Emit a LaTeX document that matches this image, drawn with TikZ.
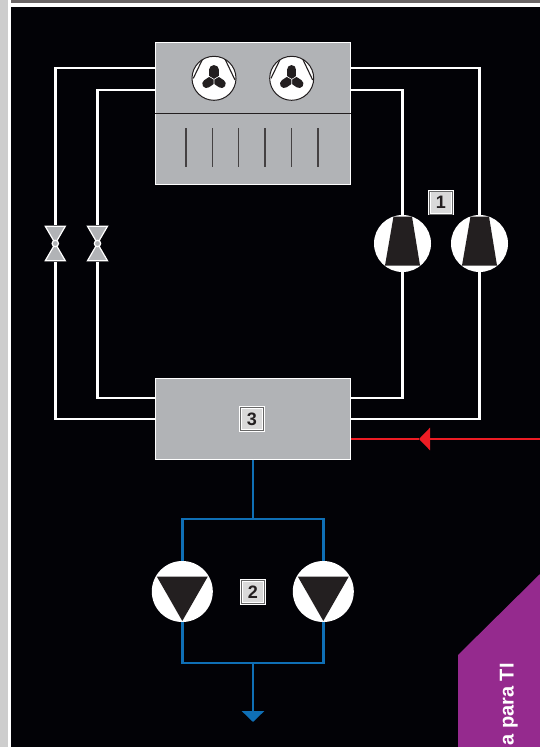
\documentclass[tikz,border=0pt]{standalone}
\usepackage{fontspec}
\setmainfont{Liberation Sans}
\usepackage{xcolor}
\usetikzlibrary{arrows.meta,positioning,calc}
\definecolor{unitgray}{HTML}{B1B3B6}
\definecolor{inkdark}{HTML}{231F20}
\definecolor{pipeblue}{HTML}{0F6FB5}
\definecolor{hotred}{HTML}{ED1C24}
\definecolor{tabpurple}{HTML}{952A8E}
\definecolor{pagestrip}{HTML}{CDCDCD}
\definecolor{topstrip}{HTML}{6A6565}
\definecolor{nightbg}{HTML}{020206}

\begin{document}
\begin{tikzpicture}[x=1pt,y=-1pt,
  unit/.style={draw=white,line width=.9pt,fill=unitgray,minimum width=195.5pt,inner sep=0pt,outer sep=0pt},
  badge/.style={draw=white,double=black!60,double distance=.9pt,line width=.8pt,fill=black!15,minimum size=23pt,inner sep=0pt,
    text=inkdark,font=\fontsize{18}{18}\selectfont\bfseries},
  pipe/.style={draw=white,line width=2.9pt},
  blueline/.style={draw=pipeblue,line width=2.9pt},
  redline/.style={draw=hotred,line width=2.6pt},
  comp/.style={circle,fill=white,minimum size=57pt,inner sep=0pt,outer sep=0pt,
    path picture={\fill[inkdark,shift={(path picture bounding box.center)}] (-9,-27) -- (9.5,-27) -- (17.5,22) -- (-17.5,22) -- cycle;}},
  pump/.style={circle,fill=white,minimum size=61pt,inner sep=0pt,outer sep=0pt,
    path picture={\fill[inkdark,shift={(path picture bounding box.center)}] (-25.5,-15) -- (25.5,-15) -- (0,29.5) -- cycle;}},
  fan/.style={circle,draw=inkdark,line width=1pt,fill=white,minimum size=44pt,inner sep=0pt,outer sep=0pt,
    path picture={\begin{scope}[shift={(path picture bounding box.center)}]
      \draw[inkdark,line width=1.1pt] (-10.7,-20.7) -- (-20.7,0) (10.3,-20.7) -- (21,1.7);
      \draw[inkdark,line width=9.5pt,line cap=round] (0,-3) -- (0,-8.5);
      \draw[inkdark,line width=8.5pt,line cap=round] (-3,2.5) -- (-7.5,5.5) (3,2.5) -- (7.5,5.5);
      \draw[white,line width=.6pt] (0,1) -- (6,-2.5) (0,1) -- (-6,-2.5) (0,1) -- (0,9);
    \end{scope}}},
  valve/.style={minimum width=23pt,minimum height=37pt,inner sep=0pt,outer sep=0pt,
    path picture={\begin{scope}[shift={(path picture bounding box.center)}]
      \draw[white,fill=unitgray,line width=1.2pt,line join=miter] (-10,-17.2) -- (10,-17.2) -- (0,0) -- cycle (-10,17.2) -- (10,17.2) -- (0,0) -- cycle;
      \draw[white,fill=unitgray,line width=1.2pt] (0,0) circle (3.2);
    \end{scope}}}]
\useasboundingbox (0,0) rectangle (540,747);
% page behind the diagram
\fill[white] (0,0) rectangle (540,747);
\fill[pagestrip] (0,0) rectangle (8,747);
\fill[topstrip] (11,0) rectangle (540,3);
\fill[nightbg] (11,7) rectangle (540,747);
\fill[tabpurple] (458,655) -- (540,574) -- (540,747) -- (458,747) -- cycle;
\node[rotate=90,anchor=base east,inner sep=0pt,text=white,font=\fontsize{20}{20}\selectfont\bfseries] (tab) at (513.5,663) {a para TI};
% units
\node[unit,minimum height=141.5pt] (cond) at (253,113.5) {};
\node[unit,minimum height=81.5pt] (evap) at (253,419) {};
\draw[inkdark,line width=1.2pt] (cond.west |- 0,113.5) -- (cond.east |- 0,113.5);
\foreach \x in {186,212.3,238.7,265,291.7,318}
  \draw[inkdark!85,line width=1.2pt] (\x,128) -- (\x,167);
\node[fan] (fanA) at (214,78.3) {};
\node[fan] (fanB) at (291.7,78.3) {};
\node[comp] (compA) at (402.5,243.5) {};
\node[comp] (compB) at (479.5,243.5) {};
\node[valve] (valveA) at (55.3,243.5) {};
\node[valve] (valveB) at (97.5,243.5) {};
\node[pump] (pumpA) at (182.3,591.5) {};
\node[pump] (pumpB) at (323.3,591.5) {};
\node[badge] (tagA) at (441,202.7) {1};
\node[badge] (tagB) at (253,592) {2};
\node[badge] (tagC) at (252,419) {3};
% pipe ends
\coordinate (condLo) at (155,68);
\coordinate (condLi) at (155,90);
\coordinate (condRo) at (351,68);
\coordinate (condRi) at (351,90);
\coordinate (evapLo) at (155,419);
\coordinate (evapLi) at (155,398);
\coordinate (evapRo) at (351,419);
\coordinate (evapRi) at (351,398);
\coordinate (splitT) at (253,519);
\coordinate (splitB) at (253,663);
\coordinate (outlet) at (253,722);
\coordinate (redIn) at (540,439);
\coordinate (redMid) at (419,439);
\coordinate (redEnd) at (351,439);
% refrigerant
\draw[pipe] (condLo) -| (valveA); \draw[pipe] (valveA) |- (evapLo);
\draw[pipe] (condLi) -| (valveB); \draw[pipe] (valveB) |- (evapLi);
\draw[pipe] (condRi) -| (compA); \draw[pipe] (compA) |- (evapRi);
\draw[pipe] (condRo) -| (compB); \draw[pipe] (compB) |- (evapRo);
% water
\draw[blueline] (evap.south) -- (splitT);
\draw[blueline] (splitT) -| (pumpA); \draw[blueline] (splitT) -| (pumpB);
\draw[blueline] (pumpA) |- (splitB); \draw[blueline] (pumpB) |- (splitB);
\draw[blueline,-{Triangle[length=11pt,width=22pt]}] (splitB) -- (outlet);
% heat input
\draw[redline,-{Triangle[length=11pt,width=22pt]}] (redIn) -- (redMid);
\draw[redline] (redMid) -- (redEnd);
\end{tikzpicture}
\end{document}
